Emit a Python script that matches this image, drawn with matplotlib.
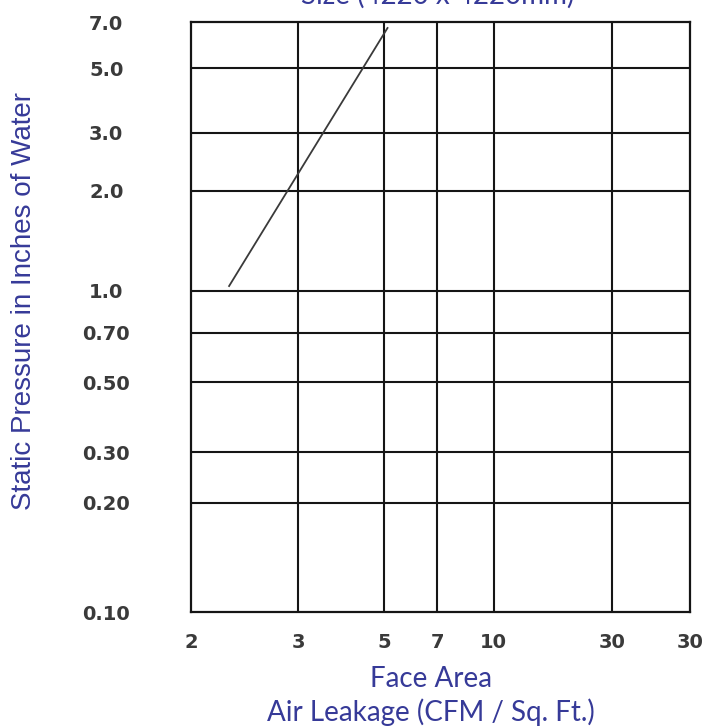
import matplotlib
matplotlib.use("Agg")
import matplotlib.pyplot as plt
import numpy as np

# Data
x_ticks = [2, 3, 5, 7, 10, 30, 50]
x_tick_labels = ["2", "3", "5", "7", "10", "30", "30"]
y_ticks = [0.10, 0.20, 0.30, 0.50, 0.70, 1.0, 2.0, 3.0, 5.0, 7.0]
y_tick_labels = ["0.10", "0.20", "0.30", "0.50", "0.70", "1.0", "2.0", "3.0", "5.0", "7.0"]

leak_x = [2.31, 5.1]
leak_y = [1.035, 6.7]

# gridline spacing as drawn on the printed chart (not a clean log scale)
x_grid_pos = [0, 107, 193, 246, 302, 420, 498]
y_grid_pos = [0, 109, 160, 230, 279, 321, 421, 479, 544, 590]

W, H = 715, 728
fig = plt.figure(figsize=(W / 100, H / 100), dpi=100)
ax = fig.add_axes([191 / W, (H - 612) / H, (690 - 191) / W, (612 - 22) / H])

lx, lxp = np.log10(x_ticks), np.array(x_grid_pos, float)
ly, lyp = np.log10(y_ticks), np.array(y_grid_pos, float)


def fx(v):
    return np.interp(np.log10(np.clip(v, 1e-9, None)), lx, lxp)


def ix(p):
    return 10 ** np.interp(p, lxp, lx)


def fy(v):
    return np.interp(np.log10(np.clip(v, 1e-9, None)), ly, lyp)


def iy(p):
    return 10 ** np.interp(p, lyp, ly)


ax.set_xscale("function", functions=(fx, ix))
ax.set_yscale("function", functions=(fy, iy))
ax.set_xlim(x_ticks[0], x_ticks[-1])
ax.set_ylim(y_ticks[0], y_ticks[-1])

grid_color = "#151515"
for v in x_ticks[1:-1]:
    ax.axvline(v, color=grid_color, lw=1.5, zorder=1)
for v in y_ticks[1:-1]:
    ax.axhline(v, color=grid_color, lw=1.5, zorder=1)
for s in ax.spines.values():
    s.set_color(grid_color)
    s.set_linewidth(1.6)

ax.plot(leak_x, leak_y, color="#3a3a3a", lw=1.3, zorder=2)

tick_font = dict(family="DejaVu Sans", weight="bold", size=14, color="#3a3a3a")
ax.set_xticks(x_ticks)
ax.set_xticklabels(x_tick_labels, **tick_font)
ax.set_yticks(y_ticks)
ax.set_yticklabels(y_tick_labels, ha="center", **tick_font)
ax.minorticks_off()
ax.tick_params(axis="both", length=0)
ax.tick_params(axis="x", pad=15)
ax.tick_params(axis="y", pad=61)

blue = "#363a98"
fig.text(431 / W, 1 - 687 / H, "Face Area", ha="center", va="baseline",
         family="Lato", size=20, color=blue)
fig.text(431 / W, 1 - 721 / H, "Air Leakage (CFM / Sq. Ft.)", ha="center",
         va="baseline", family="Lato", size=20, color=blue)
fig.text(24 / W, 1 - 301 / H, "Static Pressure in Inches of Water", rotation=90,
         ha="center", va="center", family="Liberation Sans", size=20, color=blue)
fig.text(438 / W, 1 - 4 / H, "Size (4220 x 4220mm)", ha="center", va="baseline",
         family="Lato", size=20, color=blue)

fig.savefig("out.png", dpi=100)
